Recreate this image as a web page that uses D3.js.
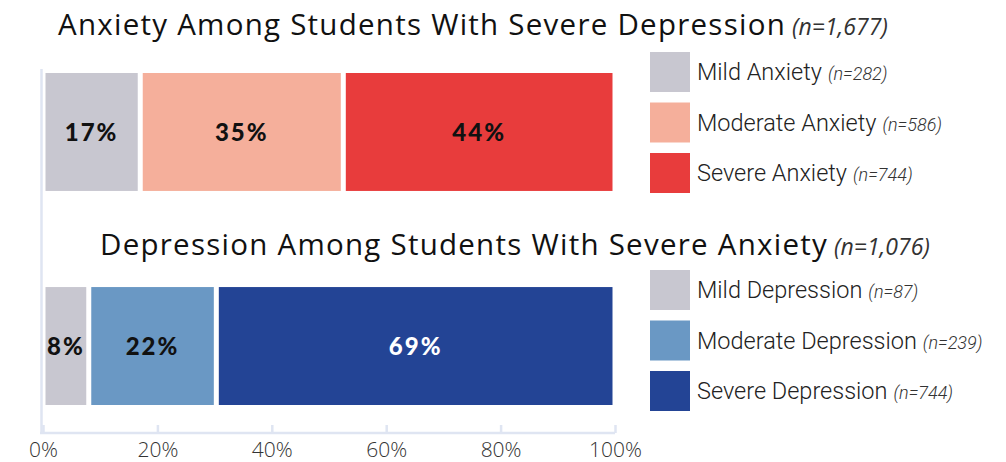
<!DOCTYPE html>
<html><head><meta charset="utf-8">
<script src="https://cdn.jsdelivr.net/npm/d3@7"></script>
<style>
body{margin:0;background:#fff;}
svg{display:block;}
</style></head>
<body>
<svg id="c" width="1006" height="462"></svg>
<script>
// ---- data ----
const rows = ["anxiety", "depression"];
const titles = ["Anxiety Among Students With Severe Depression", "Depression Among Students With Severe Anxiety"];
const titleN = ["(n=1,677)", "(n=1,076)"];
const anxietyCats = ["Mild Anxiety", "Moderate Anxiety", "Severe Anxiety"];
const anxietyCounts = [282, 586, 744];
const anxietyBar = [17.0, 35.5, 47.5];       // bar lengths (%) as drawn
const anxietyPct = ["17%", "35%", "44%"];
const depressionCats = ["Mild Depression", "Moderate Depression", "Severe Depression"];
const depressionCounts = [87, 239, 744];
const depressionBar = [8.0, 22.3, 69.7];     // bar lengths (%) as drawn
const depressionPct = ["8%", "22%", "69%"];
const anxietyColors = ["#c8c7d0", "#f5af9b", "#e83c3c"];
const depressionColors = ["#c8c7d0", "#6a98c4", "#234495"];
const tickValues = [0, 20, 40, 60, 80, 100];

const groups = [
  {cats: anxietyCats, counts: anxietyCounts, bar: anxietyBar, pct: anxietyPct, colors: anxietyColors},
  {cats: depressionCats, counts: depressionCounts, bar: depressionBar, pct: depressionPct, colors: depressionColors}
];

const svg = d3.select("#c");
const x = d3.scaleLinear().domain([0, 100]).range([43, 615]);
const y = d3.scaleBand().domain(rows).range([73, 405]).paddingInner(0.449).paddingOuter(0);

// axis lines
svg.append("line").attr("x1", 41.5).attr("x2", 41.5).attr("y1", 69).attr("y2", 433)
  .attr("stroke", "#dfe5f2").attr("stroke-width", 2.5);

const axis = d3.axisBottom(x).tickValues(tickValues).tickFormat(d => d + "%")
  .tickSizeInner(-8).tickSizeOuter(0).tickPadding(9);
const ag = svg.append("g").attr("transform", "translate(0,433)").call(axis);
ag.select(".domain").attr("d", "M40,0H615").attr("stroke", "#dfe5f2").attr("stroke-width", 2.5);
ag.selectAll(".tick line").attr("stroke", "#dfe5f2").attr("stroke-width", 2.5);
ag.selectAll(".tick text").attr("fill", "#333").attr("font-family", "'Open Sans', sans-serif")
  .attr("font-size", 21).attr("font-weight", 300);

// titles
const titleX = [58, 100];
const titleY = [35, 255];
const titleW = 728;
rows.forEach((r, i) => {
  const t = svg.append("text").attr("x", titleX[i]).attr("y", titleY[i])
    .attr("font-family", "'Open Sans', sans-serif").attr("fill", "#111");
  const main = t.append("tspan").attr("font-size", 29.5).text(titles[i]);
  const w = main.node().getComputedTextLength();
  const n = titles[i].length;
  main.attr("letter-spacing", (titleW - w) / n);
  t.append("tspan").attr("dx", 6).attr("font-size", 23).attr("font-style", "italic").attr("fill", "#333").text(titleN[i]);
});

// bars
groups.forEach((g, i) => {
  let cum = 0;
  const segs = g.bar.map((v, j) => {
    const s = {x0: cum, x1: cum + v, color: g.colors[j], pct: g.pct[j], j};
    cum += v;
    return s;
  });
  const gg = svg.append("g");
  gg.selectAll("rect").data(segs).join("rect")
    .attr("x", d => x(d.x0) + 2.5)
    .attr("width", d => x(d.x1) - x(d.x0) - 5)
    .attr("y", y(rows[i]))
    .attr("height", y.bandwidth())
    .attr("fill", d => d.color);
  gg.selectAll("text").data(segs).join("text")
    .attr("x", d => (x(d.x0) + x(d.x1)) / 2)
    .attr("y", y(rows[i]) + y.bandwidth() / 2)
    .attr("dy", "0.36em")
    .attr("text-anchor", "middle")
    .attr("font-family", "Lato, sans-serif")
    .attr("font-weight", 900)
    .attr("font-size", 24)
    .attr("letter-spacing", 2)
    .attr("fill", d => (i === 1 && d.j === 2) ? "#fff" : "#111")
    .text(d => d.pct);

  // legend
  const lg = svg.append("g");
  const ly0 = [52, 270][i];
  g.cats.forEach((c, j) => {
    const yy = ly0 + j * 50.5;
    lg.append("rect").attr("x", 650).attr("y", yy).attr("width", 40).attr("height", 40).attr("fill", g.colors[j]);
    const t = lg.append("text").attr("x", 697).attr("y", yy + 28)
      .attr("font-family", "Roboto, sans-serif").attr("font-weight", 300).attr("fill", "#222");
    t.append("tspan").attr("font-size", 23.5).text(c);
    t.append("tspan").attr("dx", 6).attr("font-size", 18).attr("font-style", "italic").attr("fill", "#333").text("(n=" + g.counts[j] + ")");
  });
});
</script>
</body></html>
